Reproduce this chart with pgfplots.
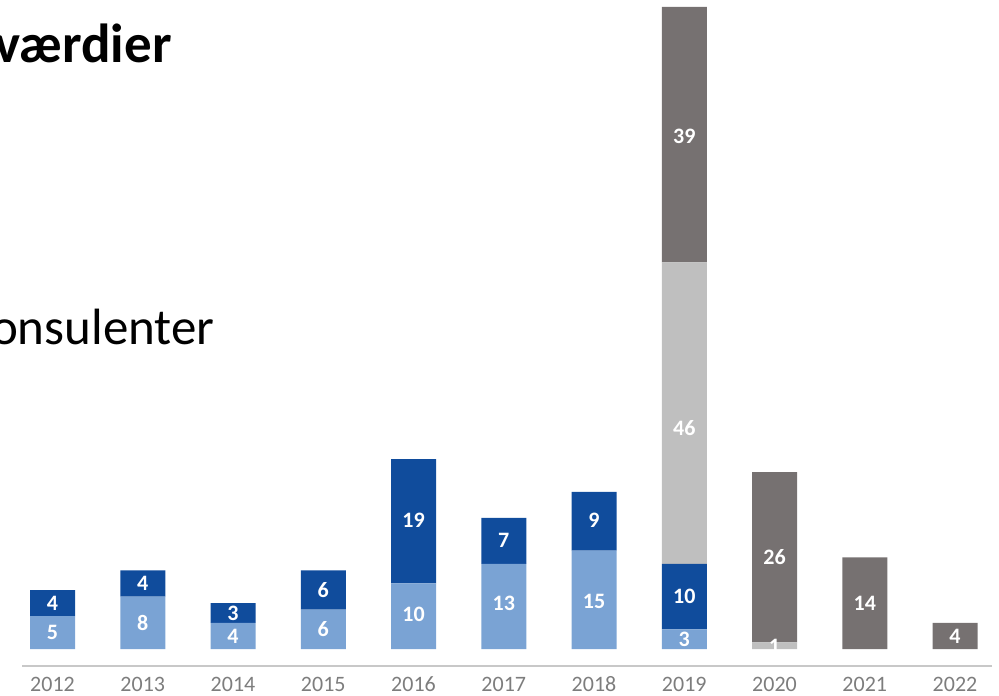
\documentclass[border=0pt]{standalone}
\usepackage{pgfplots}
\pgfplotsset{compat=1.18}
\usepackage{pgfplotstable}
\usepackage{fontspec}
\setmainfont{Carlito}
\definecolor{lblue}{RGB}{122,163,212}
\definecolor{dblue}{RGB}{16,76,156}
\definecolor{lgray}{RGB}{191,191,191}
\definecolor{dgray}{RGB}{118,113,113}
\definecolor{tgray}{RGB}{125,125,125}
\definecolor{agray}{RGB}{200,200,200}

% x: 0=2012 ... 10=2022
\pgfplotstableread{
x  a   b   c   d
0  5   4   0   0
1  8   4   0   0
2  4   3   0   0
3  6   6   0   0
4  10  19  0   0
5  13  7   0   0
6  15  9   0   0
7  3   10  46  39
8  0   0   1   26
9  0   0   0   14
10 0   0   0   4
}\data

\pgfplotstableread{
x   y     l
0   2.5   5
1   4     8
2   2     4
3   3     6
4   5.3   10
5   7     13
6   7.2   15
7   1.5   3
0   7     4
1   10    4
2   5.5   3
3   9     6
4   19.6  19
5   16.6  7
6   19.6  9
7   8.1   10
7   33.8  46
8   0.4   1
7   78.3  39
8   14    26
9   7     14
10  2     4
}\labels

\begin{document}
\begin{tikzpicture}
\pgfplotsset{
  base/.style={
    scale only axis,
    width=485pt, height=333pt,
    xmin=-0.338, xmax=10.41,
    ymin=-2.595, ymax=99.07,
    at={(11pt,14.5pt)}, anchor=south west,
  }
}
\begin{axis}[base,
  ybar stacked, bar width=22.5pt,
  axis x line*=bottom, axis y line=none,
  x axis line style={draw=agray, line width=0.8pt, -},
  xtick={0,...,10},
  xticklabels={2012,2013,2014,2015,2016,2017,2018,2019,2020,2021,2022},
  major tick length=0pt,
  xticklabel style={anchor=base, yshift=-12.8pt, font=\fontsize{11}{12}\selectfont, text=tgray},
]
\addplot[fill=lblue, draw=none] table[x=x, y=a] {\data};
\addplot[fill=dblue, draw=none] table[x=x, y=b] {\data};
\addplot[fill=lgray, draw=none] table[x=x, y=c] {\data};
\addplot[fill=dgray, draw=none] table[x=x, y=d] {\data};
\end{axis}
\begin{axis}[base, hide axis]
\addplot[only marks, mark=none, nodes near coords, point meta=explicit symbolic,
  every node near coord/.style={anchor=center, inner sep=0pt, text=white,
  font=\fontsize{11}{12}\selectfont\bfseries}]
  table[x=x, y=y, meta=l] {\labels};
\end{axis}
\node[anchor=base east, inner sep=0pt, font=\fontsize{27.5}{31}\selectfont\bfseries] at (86pt,316pt) {-værdier};
\node[anchor=base east, inner sep=0pt, font=\fontsize{25.5}{30}\selectfont] at (107.5pt,175pt) {Konsulenter};
\pgfresetboundingbox
\path (0,0) rectangle (499.5pt,347.5pt);
\end{tikzpicture}
\end{document}
